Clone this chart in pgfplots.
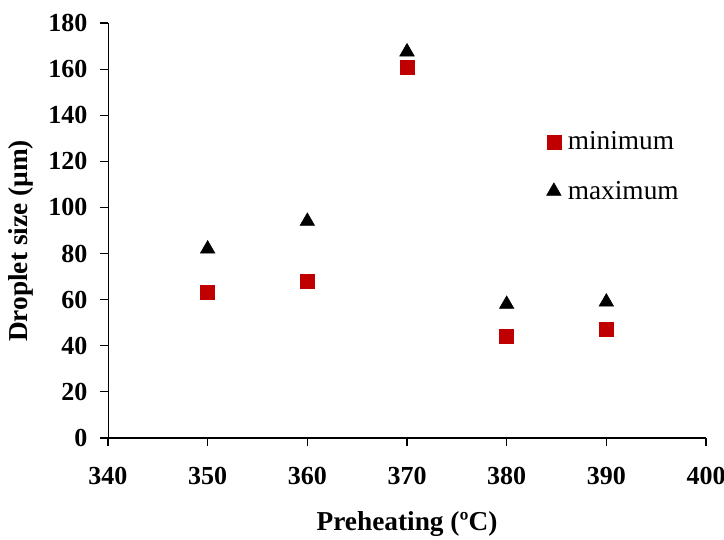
\documentclass[border=0pt]{standalone}
\usepackage{pgfplots}
\pgfplotsset{compat=1.18}
\usepackage{fontspec}
\setmainfont{Liberation Serif}
\definecolor{myred}{HTML}{C00000}
\begin{document}
\begin{tikzpicture}
\useasboundingbox (0,0) rectangle (543pt,404.25pt);
\begin{axis}[
  at={(81pt,75.75pt)}, anchor=south west,
  scale only axis,
  width=448.5pt, height=311.25pt,
  xmin=340, xmax=400, ymin=0, ymax=180,
  xtick={340,350,...,400}, ytick={0,20,...,180},
  axis x line=bottom, axis y line=left,
  axis line style={-},
  x axis line style={line width=1.3pt},
  y axis line style={line width=0.6pt},
  tick align=outside, major tick length=6pt,
  tick style={black, line width=0.8pt},
  /pgf/number format/assume math mode=true,
  /pgf/number format/1000 sep={},
  ticklabel style={font=\fontsize{19.5}{22}\selectfont\bfseries},
  xticklabel style={yshift=-12pt},
  yticklabel style={xshift=-6pt},
  xlabel={Preheating (ºC)},
  ylabel={Droplet size (µm)},
  label style={font=\fontsize{20.5}{24}\selectfont\bfseries},
  xlabel style={at={(axis description cs:0.5,-0.208)}, anchor=center},
  ylabel style={at={(axis description cs:-0.1455,0.475)}, anchor=center},
  legend style={draw=none, fill=none, at={(0.733,0.745)}, anchor=north west,
    font=\fontsize{20.5}{24}\selectfont, row sep=18pt, column sep=3pt,
    legend cell align=left, inner sep=0pt},
  legend image code/.code={\draw[#1] plot coordinates {(0cm,0cm)};},
]
\addplot[only marks, mark=square*, mark size=5.25pt, color=myred] coordinates {
(350,63) (360,68) (370,161) (380,44) (390,47)};
\addlegendentry{minimum}
\addplot[only marks, mark=triangle*, mark size=6.3pt, color=black] coordinates {
(350,82) (360,94) (370,167.5) (380,58) (390,59)};
\addlegendentry{maximum}
\end{axis}
\end{tikzpicture}
\end{document}
